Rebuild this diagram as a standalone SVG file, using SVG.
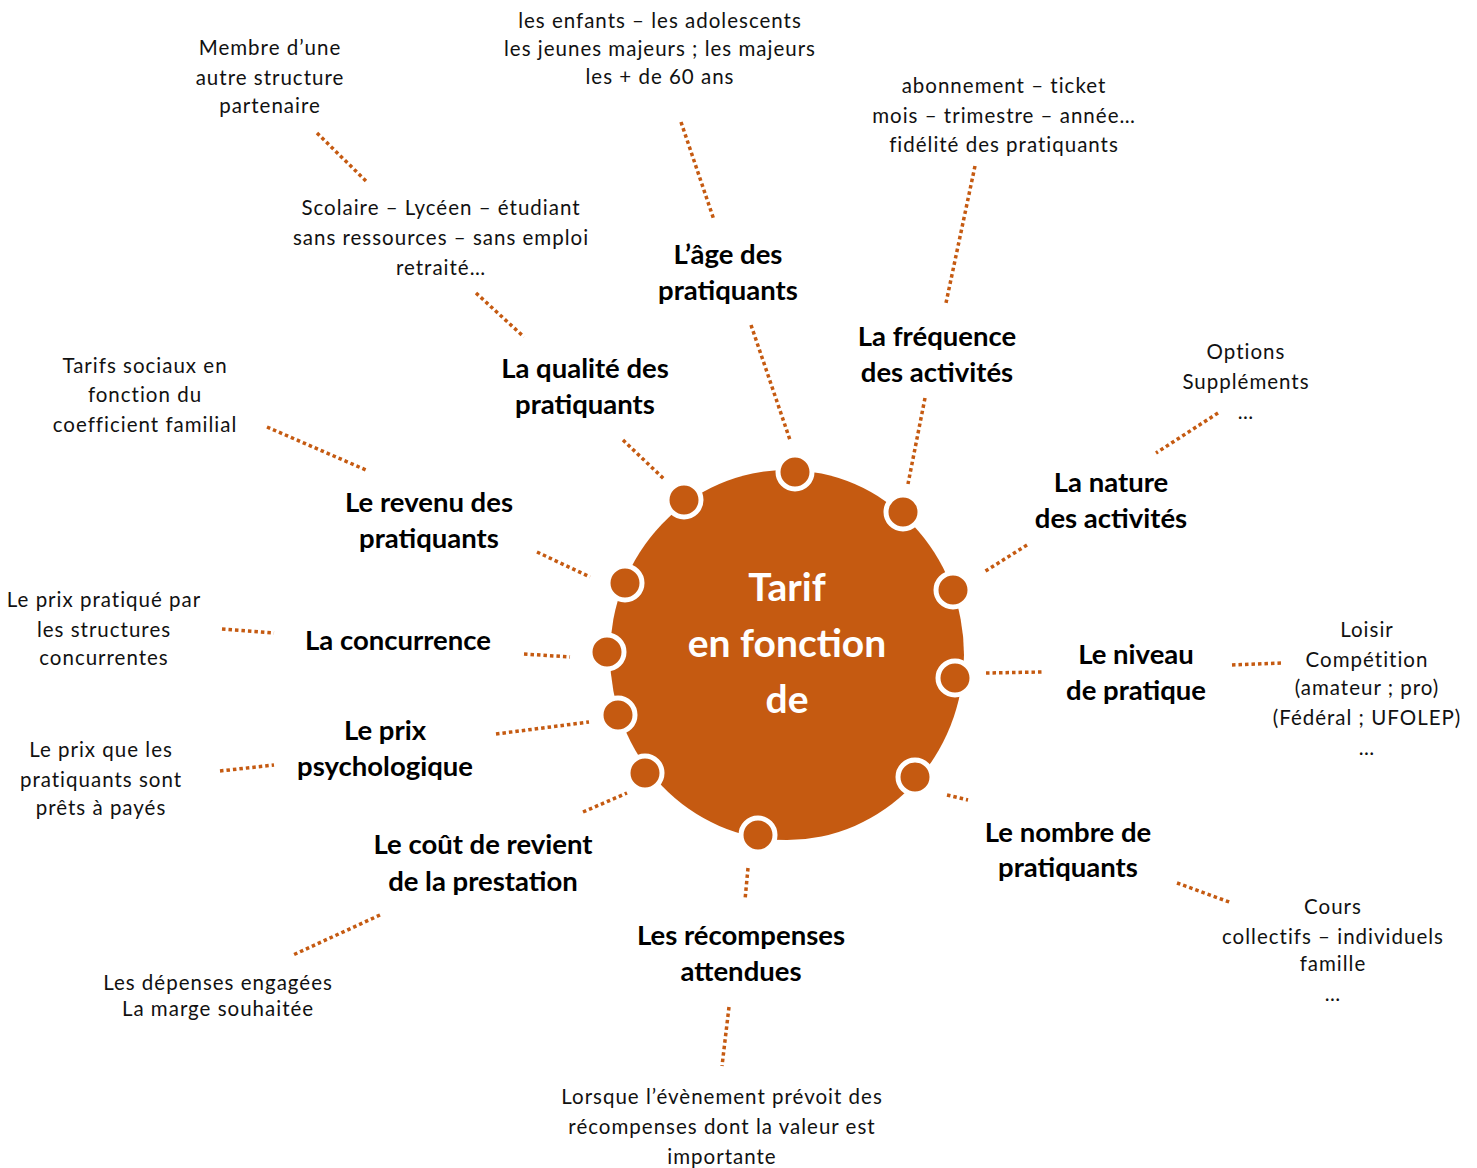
<svg xmlns="http://www.w3.org/2000/svg" width="1477" height="1168" viewBox="0 0 1477 1168">
<style>
.lbl{font-family:Lato,"Open Sans","Liberation Sans",sans-serif;font-weight:bold;font-size:27.5px;fill:#000;text-anchor:middle}
.sm{font-family:Lato,"Open Sans","Liberation Sans",sans-serif;font-size:20.5px;letter-spacing:1px;fill:#111;text-anchor:middle}
.ctr{font-family:Lato,"Open Sans","Liberation Sans",sans-serif;font-weight:bold;font-size:39px;fill:#fff;text-anchor:middle}
.dot{stroke:#C55A11;stroke-width:3.5;stroke-dasharray:3.5 3;fill:none}
.pin{fill:#C55A11;stroke:#fff;stroke-width:5}
</style>
<rect width="1477" height="1168" fill="#fff"/>
<g id="connectors">
<line class="dot" x1="317" y1="133" x2="366" y2="181"/>
<line class="dot" x1="476" y1="293" x2="524" y2="337"/>
<line class="dot" x1="681" y1="122" x2="714" y2="220"/>
<line class="dot" x1="751" y1="325" x2="790" y2="440"/>
<line class="dot" x1="975" y1="166" x2="946" y2="303"/>
<line class="dot" x1="925" y1="398" x2="908" y2="484"/>
<line class="dot" x1="623" y1="440" x2="665" y2="480"/>
<line class="dot" x1="1218" y1="413" x2="1156" y2="453"/>
<line class="dot" x1="1027" y1="545" x2="984" y2="572"/>
<line class="dot" x1="267" y1="427" x2="366" y2="470"/>
<line class="dot" x1="537" y1="552" x2="590" y2="577"/>
<line class="dot" x1="222" y1="629" x2="274" y2="633"/>
<line class="dot" x1="524" y1="654" x2="570" y2="657"/>
<line class="dot" x1="220" y1="771" x2="274" y2="765"/>
<line class="dot" x1="496" y1="734" x2="589" y2="722"/>
<line class="dot" x1="986" y1="673" x2="1042" y2="672"/>
<line class="dot" x1="1232" y1="665" x2="1283" y2="663"/>
<line class="dot" x1="583" y1="812" x2="627" y2="793"/>
<line class="dot" x1="380" y1="915" x2="293" y2="955"/>
<line class="dot" x1="947" y1="795" x2="968" y2="800"/>
<line class="dot" x1="1177" y1="883" x2="1232" y2="903"/>
<line class="dot" x1="748" y1="868" x2="745" y2="900"/>
<line class="dot" x1="729" y1="1007" x2="722" y2="1066"/>
</g>
<g id="center">
<ellipse cx="787" cy="655" rx="177" ry="185" fill="#C55A11"/>
<text class="ctr" x="787" y="601">Tarif</text>
<text class="ctr" x="787" y="657">en fonction</text>
<text class="ctr" x="787" y="713">de</text>
</g>
<g id="pins">
<circle class="pin" cx="795" cy="472" r="17"/>
<circle class="pin" cx="684" cy="500" r="17"/>
<circle class="pin" cx="903" cy="512" r="17"/>
<circle class="pin" cx="953" cy="590" r="17"/>
<circle class="pin" cx="625" cy="583" r="17"/>
<circle class="pin" cx="607" cy="652" r="17"/>
<circle class="pin" cx="618" cy="715" r="17"/>
<circle class="pin" cx="955" cy="678" r="17"/>
<circle class="pin" cx="645" cy="773" r="17"/>
<circle class="pin" cx="915" cy="777" r="17"/>
<circle class="pin" cx="758" cy="835" r="17"/>
</g>
<g id="age"><text class="lbl" x="728" y="264">L’âge des</text><text class="lbl" x="728" y="300">pratiquants</text></g>
<g id="frequence"><text class="lbl" x="937" y="346">La fréquence</text><text class="lbl" x="937" y="382">des activités</text></g>
<g id="qualite"><text class="lbl" x="585" y="378">La qualité des</text><text class="lbl" x="585" y="414">pratiquants</text></g>
<g id="nature"><text class="lbl" x="1111" y="492">La nature</text><text class="lbl" x="1111" y="528">des  activités</text></g>
<g id="revenu"><text class="lbl" x="429" y="512">Le revenu des</text><text class="lbl" x="429" y="548">pratiquants</text></g>
<g id="concurrence"><text class="lbl" x="398" y="650">La concurrence</text></g>
<g id="niveau"><text class="lbl" x="1136" y="664">Le niveau</text><text class="lbl" x="1136" y="700">de pratique</text></g>
<g id="prix"><text class="lbl" x="385" y="740">Le prix</text><text class="lbl" x="385" y="776">psychologique</text></g>
<g id="cout"><text class="lbl" x="483" y="854">Le coût de revient</text><text class="lbl" x="483" y="891">de la prestation</text></g>
<g id="nombre"><text class="lbl" x="1068" y="842">Le nombre de</text><text class="lbl" x="1068" y="877">pratiquants</text></g>
<g id="recompenses"><text class="lbl" x="741" y="945">Les récompenses</text><text class="lbl" x="741" y="981">attendues</text></g>
<g id="d-membre"><text class="sm" x="270" y="55">Membre d’une</text><text class="sm" x="270" y="85">autre structure</text><text class="sm" x="270" y="113">partenaire</text></g>
<g id="d-age"><text class="sm" x="660" y="28">les enfants – les adolescents</text><text class="sm" x="660" y="56">les jeunes majeurs ; les majeurs</text><text class="sm" x="660" y="84">les + de 60 ans</text></g>
<g id="d-frequence"><text class="sm" x="1004" y="93">abonnement – ticket</text><text class="sm" x="1004" y="123">mois – trimestre – année…</text><text class="sm" x="1004" y="152">fidélité des pratiquants</text></g>
<g id="d-qualite"><text class="sm" x="441" y="215">Scolaire – Lycéen – étudiant</text><text class="sm" x="441" y="245">sans ressources – sans emploi</text><text class="sm" x="441" y="275">retraité…</text></g>
<g id="d-nature"><text class="sm" x="1246" y="359">Options</text><text class="sm" x="1246" y="389">Suppléments</text><text class="sm" x="1246" y="419">…</text></g>
<g id="d-revenu"><text class="sm" x="145" y="373">Tarifs sociaux en</text><text class="sm" x="145" y="402">fonction du</text><text class="sm" x="145" y="432">coefficient familial</text></g>
<g id="d-concurrence"><text class="sm" x="104" y="607">Le prix pratiqué par</text><text class="sm" x="104" y="637">les structures</text><text class="sm" x="104" y="665">concurrentes</text></g>
<g id="d-niveau"><text class="sm" x="1367" y="637">Loisir</text><text class="sm" x="1367" y="667">Compétition</text><text class="sm" x="1367" y="695">(amateur ; pro)</text><text class="sm" x="1367" y="725">(Fédéral ; UFOLEP)</text><text class="sm" x="1367" y="755">…</text></g>
<g id="d-prix"><text class="sm" x="101" y="757">Le prix que les</text><text class="sm" x="101" y="787">pratiquants sont</text><text class="sm" x="101" y="815">prêts à payés</text></g>
<g id="d-nombre"><text class="sm" x="1333" y="914">Cours</text><text class="sm" x="1333" y="944">collectifs – individuels</text><text class="sm" x="1333" y="971">famille</text><text class="sm" x="1333" y="1001">…</text></g>
<g id="d-cout"><text class="sm" x="218" y="990">Les dépenses engagées</text><text class="sm" x="218" y="1016">La marge souhaitée</text></g>
<g id="d-recompenses"><text class="sm" x="722" y="1104">Lorsque l’évènement prévoit des</text><text class="sm" x="722" y="1134">récompenses dont la valeur est</text><text class="sm" x="722" y="1164">importante</text></g>
</svg>
